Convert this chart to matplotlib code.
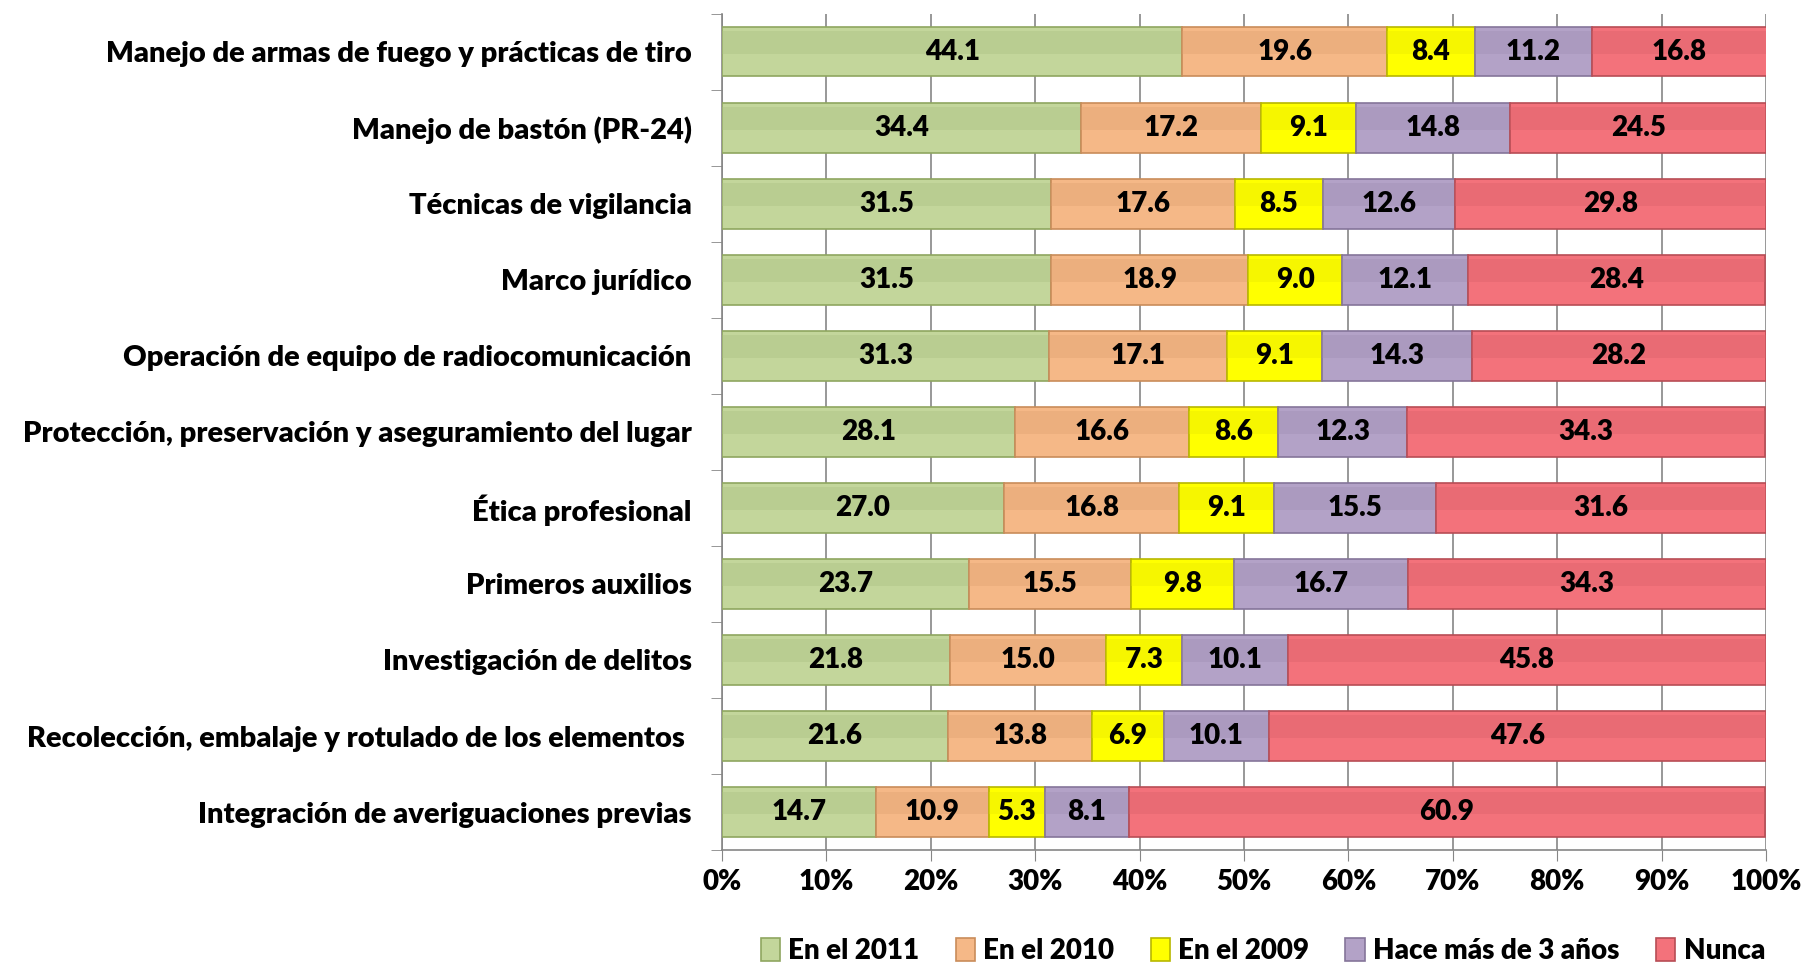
import numpy as np
import matplotlib.pyplot as plt
from matplotlib.ticker import PercentFormatter

categories = [
    'Manejo de armas de fuego y prácticas de tiro',
    'Manejo de bastón (PR-24)',
    'Técnicas de vigilancia',
    'Marco jurídico',
    'Operación de equipo de radiocomunicación',
    'Protección, preservación y aseguramiento del lugar',
    'Ética profesional',
    'Primeros auxilios',
    'Investigación de delitos',
    'Recolección, embalaje y rotulado de los elementos ',
    'Integración de averiguaciones previas',
]
series = ['En el 2011', 'En el 2010', 'En el 2009', 'Hace más de 3 años', 'Nunca']
en_2011 = [44.1, 34.4, 31.5, 31.5, 31.3, 28.1, 27.0, 23.7, 21.8, 21.6, 14.7]
en_2010 = [19.6, 17.2, 17.6, 18.9, 17.1, 16.6, 16.8, 15.5, 15.0, 13.8, 10.9]
en_2009 = [8.4, 9.1, 8.5, 9.0, 9.1, 8.6, 9.1, 9.8, 7.3, 6.9, 5.3]
hace_3 = [11.2, 14.8, 12.6, 12.1, 14.3, 12.3, 15.5, 16.7, 10.1, 10.1, 8.1]
nunca = [16.8, 24.5, 29.8, 28.4, 28.2, 34.3, 31.6, 34.3, 45.8, 47.6, 60.9]

colors = ['#c3d69b', '#f5b887', '#ffff00', '#b3a2c7', '#f3727b']
edges = ['#8fa660', '#c98c5a', '#b8b800', '#85759a', '#b84d55']
shade = ['#a9bd80', '#dca070', '#e6e600', '#9d8cb2', '#d95f68']

plt.rcParams['font.family'] = ['Lato', 'DejaVu Sans']
W = 'heavy'

fig = plt.figure(figsize=(18.02, 9.63), dpi=100)
ax = fig.add_axes([0.4007, 0.1173, 0.5793, 0.8684])

values = [en_2011, en_2010, en_2009, hace_3, nunca]
y = np.arange(len(categories))
left = np.zeros(len(categories))
for vals, name, c, ec, sh in zip(values, series, colors, edges, shade):
    vals = np.array(vals)
    bars = ax.barh(y, vals, left=left, height=0.65, color=c, edgecolor=ec,
                   linewidth=1.2, label=name, zorder=3)
    # darker upper band to mimic the bevel look
    ax.barh(y - 0.12, vals, left=left, height=0.3, color=sh, linewidth=0,
            alpha=0.35, zorder=3)
    for b, v in zip(bars, vals):
        ax.text(b.get_x() + b.get_width() / 2, b.get_y() + b.get_height() / 2,
                f'{v:.1f}', ha='center', va='center', fontsize=20,
                fontweight=W, color='black', zorder=4)
    left += vals

ax.set_xlim(0, 100)
ax.set_ylim(len(categories) - 0.5, -0.5)
ax.set_yticks(y)
ax.set_yticklabels(categories, fontsize=21, fontweight=W)
ax.set_yticks(np.arange(len(categories) + 1) - 0.5, minor=True)
ax.tick_params(axis='y', which='major', length=0, pad=22)
ax.tick_params(axis='y', which='minor', length=8, color='#868686')
ax.set_xticks(np.arange(0, 101, 10))
ax.xaxis.set_major_formatter(PercentFormatter(decimals=0))
ax.tick_params(axis='x', labelsize=20, length=8, color='#868686', pad=6)
for lbl in ax.get_xticklabels():
    lbl.set_fontweight(W)
ax.grid(axis='x', color='#868686', linewidth=1.2, zorder=0)
for s in ['top', 'right']:
    ax.spines[s].set_visible(False)
for s in ['left', 'bottom']:
    ax.spines[s].set_color('#868686')
    ax.spines[s].set_linewidth(1.2)

ax.legend(loc='upper center', bbox_to_anchor=(0.518, -0.075), ncol=5,
          frameon=False, handlelength=0.7, handleheight=0.9,
          handletextpad=0.3, columnspacing=1.3,
          prop={'size': 20, 'weight': W})

fig.savefig('out.png', dpi=100)
